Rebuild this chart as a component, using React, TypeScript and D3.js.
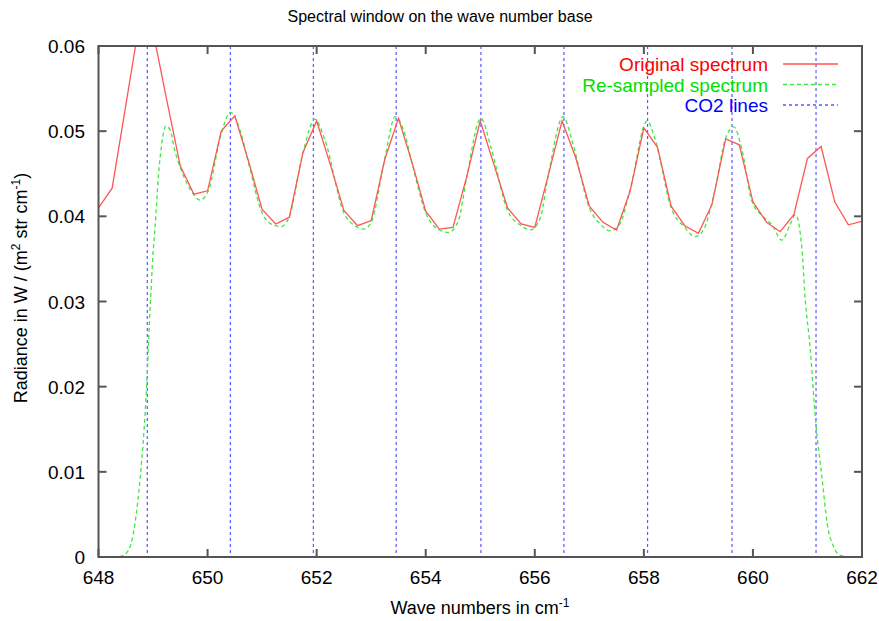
import React, { useEffect, useRef } from "react";
import * as d3 from "d3";

// original spectrum, sampled every 0.25 cm-1 from 648 to 662
const originalStart = 648;
const originalStep = 0.25;
const originalValues = [
  0.0410, 0.0433, 0.0530, 0.0628, 0.0617, 0.0537, 0.0459, 0.0426,
  0.0430, 0.0500, 0.0518, 0.0465, 0.0408, 0.0391, 0.0399, 0.0475,
  0.0512, 0.0461, 0.0407, 0.0389, 0.0395, 0.0467, 0.0515, 0.0463,
  0.0406, 0.0385, 0.0387, 0.0446, 0.0512, 0.0461, 0.0410, 0.0391,
  0.0387, 0.0449, 0.0512, 0.0469, 0.0412, 0.0393, 0.0384, 0.0430,
  0.0504, 0.0481, 0.0412, 0.0389, 0.0380, 0.0414, 0.0491, 0.0484,
  0.0417, 0.0393, 0.0382, 0.0402, 0.0468, 0.0482, 0.0417, 0.0390,
  0.0394,
];

// re-sampled spectrum
const resampledWave = [
  648.0, 648.3, 648.455, 648.578, 648.67, 648.761, 648.87, 648.954, 649.005,
  649.037, 649.097, 649.16, 649.233, 649.31, 649.4, 649.526, 649.74, 649.862,
  650.014, 650.25, 650.42, 650.6, 650.75, 651.0, 651.2, 651.35, 651.5, 651.75,
  651.97, 652.15, 652.5, 652.7, 652.86, 653.0, 653.25, 653.44, 653.6, 653.75,
  654.0, 654.25, 654.42, 654.6, 654.75, 655.01, 655.2, 655.5, 655.75, 655.92,
  656.1, 656.25, 656.52, 656.7, 657.0, 657.2, 657.38, 657.55, 657.75, 658.06,
  658.2, 658.5, 658.75, 658.94, 659.1, 659.3, 659.5, 659.65, 659.8, 659.98,
  660.2, 660.35, 660.53, 660.68, 660.78, 660.9, 660.95, 661.05, 661.15,
  661.27, 661.36, 661.48, 661.6, 661.8, 662.0,
];
const resampledValues = [
  0, 0, 0.0002, 0.0012, 0.004, 0.0091, 0.0185, 0.0302, 0.0361,
  0.0387, 0.0446, 0.0485, 0.0506, 0.0502, 0.0477, 0.0453, 0.0426, 0.0419,
  0.043, 0.0497, 0.0522, 0.05, 0.0463, 0.0404, 0.039, 0.0388, 0.04, 0.0475,
  0.0514, 0.049, 0.0404, 0.0389, 0.0385, 0.0393, 0.0468, 0.0517, 0.05, 0.0462,
  0.0404, 0.0384, 0.0381, 0.0395, 0.0445, 0.0515, 0.048, 0.0407, 0.0389, 0.0384,
  0.0398, 0.0449, 0.0517, 0.0485, 0.041, 0.0391, 0.0383, 0.039, 0.0432, 0.0512,
  0.0492, 0.041, 0.0387, 0.0376, 0.0385, 0.043, 0.0492, 0.0505, 0.0478, 0.0418,
  0.0399, 0.039, 0.0372, 0.039, 0.0402, 0.0361, 0.031, 0.0245, 0.016,
  0.0091, 0.004, 0.0012, 0.0002, 0, 0,
];

// CO2 line positions
const co2Lines = [648.895, 650.418, 651.94, 653.458, 655.012, 656.534, 658.068, 659.616, 661.157];

const xTicks = [648, 650, 652, 654, 656, 658, 660, 662];
const yTicks = [0, 0.01, 0.02, 0.03, 0.04, 0.05, 0.06];
const legendLabels = ["Original spectrum", "Re-sampled spectrum", "CO2 lines"];

const W = 879;
const H = 621;
const FONT = "'Liberation Sans', Arial, Helvetica, sans-serif";

export default function App() {
  const ref = useRef<SVGSVGElement>(null);

  useEffect(() => {
    const svg = d3.select(ref.current);
    svg.selectAll("*").remove();

    const left = 98.5, right = 862, top = 46, bottom = 557;
    const x = d3.scaleLinear().domain([648, 662]).range([left, right]);
    const y = d3.scaleLinear().domain([0, 0.06]).range([bottom, top]);

    svg.append("defs").append("clipPath").attr("id", "plotclip")
      .append("rect").attr("x", left).attr("y", top)
      .attr("width", right - left).attr("height", bottom - top);

    // CO2 lines
    svg.append("g").selectAll("line").data(co2Lines).enter().append("line")
      .attr("x1", d => x(d)).attr("x2", d => x(d))
      .attr("y1", top).attr("y2", bottom)
      .attr("stroke", "#5a5aff").attr("stroke-width", 1.2)
      .attr("stroke-dasharray", "3,3");

    const plot = svg.append("g").attr("clip-path", "url(#plotclip)");

    const original = originalValues.map((v, i) => [originalStart + i * originalStep, v] as [number, number]);
    const resampled = resampledWave.map((w, i) => [w, resampledValues[i]] as [number, number]);

    const line = d3.line<[number, number]>().x(d => x(d[0])).y(d => y(d[1]));

    plot.append("path").attr("d", line.curve(d3.curveMonotoneX)(resampled) as string)
      .attr("fill", "none").attr("stroke", "#3fe83f").attr("stroke-width", 1.3)
      .attr("stroke-dasharray", "4,3");

    plot.append("path").attr("d", line.curve(d3.curveLinear)(original) as string)
      .attr("fill", "none").attr("stroke", "#ff5555").attr("stroke-width", 1.3);

    // frame
    const frame = svg.append("g").attr("stroke", "#555").attr("stroke-width", 2);
    frame.append("rect").attr("x", left).attr("y", top)
      .attr("width", right - left).attr("height", bottom - top).attr("fill", "none");

    const tl = 8;
    xTicks.forEach(t => {
      frame.append("line").attr("x1", x(t)).attr("x2", x(t)).attr("y1", bottom).attr("y2", bottom - tl);
      frame.append("line").attr("x1", x(t)).attr("x2", x(t)).attr("y1", top).attr("y2", top + tl);
    });
    yTicks.forEach(t => {
      frame.append("line").attr("x1", left).attr("x2", left + tl).attr("y1", y(t)).attr("y2", y(t));
      frame.append("line").attr("x1", right).attr("x2", right - tl).attr("y1", y(t)).attr("y2", y(t));
    });

    const text = svg.append("g").attr("font-family", FONT).attr("fill", "#000");

    text.selectAll(".xt").data(xTicks).enter().append("text")
      .attr("x", d => x(d)).attr("y", 584).attr("text-anchor", "middle")
      .attr("font-size", 19).text(d => d3.format("d")(d));

    text.selectAll(".yt").data(yTicks).enter().append("text")
      .attr("x", 85).attr("y", d => y(d) + 7).attr("text-anchor", "end")
      .attr("font-size", 19).text(d => (d === 0 ? "0" : d3.format(".2f")(d)));

    text.append("text").attr("x", 440).attr("y", 22).attr("text-anchor", "middle")
      .attr("font-size", 16).text("Spectral window on the wave number base");

    const xl = text.append("text").attr("x", 480).attr("y", 614).attr("text-anchor", "middle")
      .attr("font-size", 18);
    xl.append("tspan").text("Wave numbers in cm");
    xl.append("tspan").attr("font-size", 12).attr("dy", -7).text("-1");

    const yl = text.append("text").attr("transform", "translate(27,288) rotate(-90)")
      .attr("text-anchor", "middle").attr("font-size", 18);
    yl.append("tspan").text("Radiance in W / (m");
    yl.append("tspan").attr("font-size", 12).attr("dy", -7).text("2");
    yl.append("tspan").attr("dy", 7).text(" str cm");
    yl.append("tspan").attr("font-size", 12).attr("dy", -7).text("-1");
    yl.append("tspan").attr("dy", 7).text(")");

    // legend
    const legendColors = ["#ff0000", "#00e000", "#0000ff"];
    const sampleColors = ["#ff5555", "#3fe83f", "#5a5aff"];
    const sampleDash = ["none", "4,3", "3,3"];
    legendLabels.forEach((lab, i) => {
      const cy = 64 + i * 20.5;
      svg.append("text").attr("x", 768).attr("y", cy + 7).attr("text-anchor", "end")
        .attr("font-family", FONT).attr("font-size", 19).attr("fill", legendColors[i]).text(lab);
      svg.append("line").attr("x1", 783).attr("x2", 838).attr("y1", cy).attr("y2", cy)
        .attr("stroke", sampleColors[i]).attr("stroke-width", 1.3)
        .attr("stroke-dasharray", sampleDash[i]);
    });
  }, []);

  return (
    <svg ref={ref} width={W} height={H}
      style={{ position: "absolute", left: 0, top: 0, background: "#fff" }} />
  );
}
